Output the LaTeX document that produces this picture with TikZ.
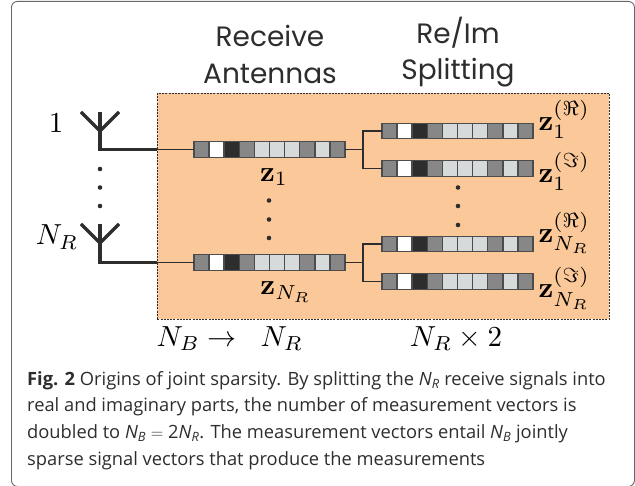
\documentclass[tikz,border=0pt]{standalone}
\usepackage{amsmath}
\usepackage{amssymb}
\usepackage[no-math]{fontspec}
\setmainfont{Open Sans}
\newfontfamily\headfont{Poppins}
\usetikzlibrary{positioning, calc}
\definecolor{panelorange}{RGB}{251,200,154}
\definecolor{darkline}{RGB}{45,45,45}
\definecolor{cellgray}{RGB}{135,135,135}
\definecolor{celllight}{RGB}{215,218,218}

% one measurement vector: ten cells inside a named bar
\newcommand{\vecbar}[3]{%
    \node[barbox] (#1) at (#2,#3) {};
    \foreach \shade [count=\i from 0] in {cellgray,white,darkline,cellgray,celllight,celllight,celllight,cellgray,celllight,cellgray} {
        \node[cell, fill=\shade, right=\i*15.12pt of #1.west] (#1-\i) {};
    }
}

\begin{document}
\begin{tikzpicture}[
    x=1pt, y=-1pt,
    barbox/.style={rectangle, minimum width=151.2pt, minimum height=15.5pt, inner sep=0pt, outer sep=0pt},
    cell/.style={rectangle, draw=darkline!85, line width=1.3pt, minimum width=15.12pt, minimum height=15.5pt, inner sep=0pt, outer sep=0pt},
    thinline/.style={draw=darkline, line width=1.1pt},
    mast/.style={draw=darkline, line width=3.4pt, line join=miter},
    dotmark/.style={circle, fill=darkline, minimum size=4.6pt, inner sep=0pt},
    head/.style={font=\headfont\fontsize{28}{28}\selectfont, text=darkline, inner sep=0pt},
    mathlabel/.style={scale=2.9, text=black, inner sep=0pt},
    veclabel/.style={scale=2.9, text=black, inner sep=0pt, anchor=west},
]

\useasboundingbox (0,0) rectangle (635,486);

% Outer frame and orange panel
\node[draw=black!60, line width=0.9pt, rounded corners=6pt, minimum width=623pt, minimum height=485pt, inner sep=0pt, anchor=north west] (frame) at (11,1) {};
\node[draw=darkline, dashed, dash pattern=on 2pt off 1.2pt, line width=0.9pt, fill=panelorange, minimum width=452pt, minimum height=226pt, inner sep=0pt, anchor=north west] (panel) at (157,93) {};

% Headings
\node[head] (receive) at (270,36) {Receive};
\node[head] (antennas) at (270,74) {Antennas};
\node[head] (reim) at (458,33) {Re/Im};
\node[head] (splitting) at (458,72.5) {Splitting};

% Vectors
\vecbar{barOne}{269.5}{149.5}
\vecbar{barTwo}{269.5}{262.5}
\vecbar{barOneRe}{457.5}{131}
\vecbar{barOneIm}{457.5}{168.5}
\vecbar{barTwoRe}{457.5}{244}
\vecbar{barTwoIm}{457.5}{281.5}

% Antennas
\coordinate (forkOne) at (100,131);
\coordinate (forkTwo) at (100,243);
\coordinate (feedOne) at (100,149.5);
\coordinate (feedTwo) at (100,262.5);
\coordinate (panelOne) at (panel.west |- barOne);
\coordinate (panelTwo) at (panel.west |- barTwo);
\draw[mast] (100,112) -- (forkOne);
\draw[mast] (81,112) -- (forkOne) -- (119,112);
\draw[mast] (100,224) -- (forkTwo);
\draw[mast] (81,224) -- (forkTwo) -- (119,224);
\draw[mast] (forkOne) -- (feedOne) -- (panelOne);
\draw[mast] (forkTwo) -- (feedTwo) -- (panelTwo);
\draw[thinline] (panelOne) -- (barOne.west);
\draw[thinline] (panelTwo) -- (barTwo.west);

% Re/Im branches
\coordinate (splitOne) at (363,149.5);
\coordinate (splitTwo) at (363,262.5);
\draw[thinline] (barOne.east) -- (splitOne);
\draw[thinline] (barTwo.east) -- (splitTwo);
\draw[thinline] (barOneRe.west) -| (splitOne) |- (barOneIm.west);
\draw[thinline] (barTwoRe.west) -| (splitTwo) |- (barTwoIm.west);

% Dots
\foreach \name/\px/\py in {a/100/169, b/100/187.5, c/100/206, d/269/200.5, e/269/219.5, f/269/238, g/458/187.5, h/458/206, i/458/225} {
    \node[dotmark] (dot\name) at (\px,\py) {};
}

% Labels
\node[mathlabel] (lblOne) at (56,123) {$1$};
\node[mathlabel] (lblRx) at (57,237) {$N_R$};
\node[mathlabel] (lblZOne) at (274,177) {$\mathbf{z}_1$};
\node[mathlabel] (lblZR) at (286,292) {$\mathbf{z}_{N_R}$};
\node[veclabel] (lblA) at (538,119) {$\mathbf{z}_1^{(\Re)}$};
\node[veclabel] (lblB) at (538,171) {$\mathbf{z}_1^{(\Im)}$};
\node[veclabel] (lblC) at (538,233) {$\mathbf{z}_{N_R}^{(\Re)}$};
\node[veclabel] (lblD) at (538,288.5) {$\mathbf{z}_{N_R}^{(\Im)}$};
\node[mathlabel, anchor=west] (lblFrom) at (156,338.5) {$N_B\rightarrow$};
\node[mathlabel, anchor=west] (lblTo) at (260,338.5) {$N_R$};
\node[mathlabel] (lblTimes) at (456,338.5) {$N_R\times 2$};

% Caption
\node[font=\fontsize{18.3}{26.7}\selectfont, text=darkline, align=left, anchor=north west, inner sep=0pt] (caption) at (27,371) {%
\textbf{Fig. 2} Origins of joint sparsity. By splitting the \textit{N}\textsubscript{\textit{R}} receive signals into\\
real and imaginary parts, the number of measurement vectors is\\
doubled to \textit{N}\textsubscript{\textit{B}} $=$ 2\textit{N}\textsubscript{\textit{R}}. The measurement vectors entail \textit{N}\textsubscript{\textit{B}} jointly\\
sparse signal vectors that produce the measurements};

\end{tikzpicture}
\end{document}
